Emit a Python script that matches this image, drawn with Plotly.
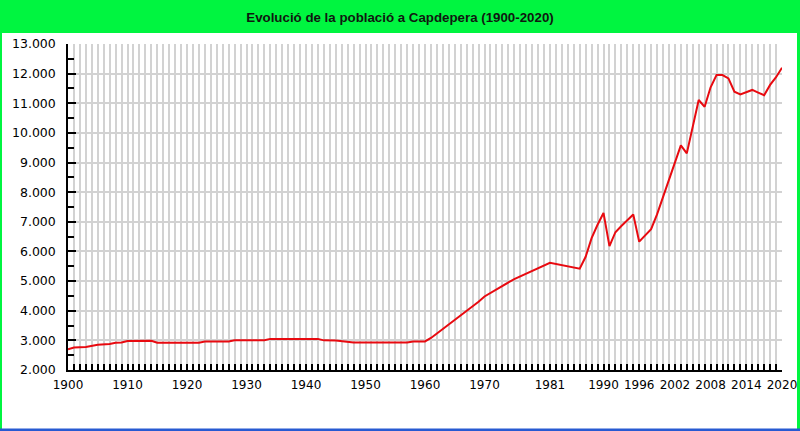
import plotly.graph_objects as go

years = [1900, 1901, 1903, 1904, 1905, 1907, 1908, 1909, 1910, 1914, 1915, 1922, 1923,
         1927, 1928, 1933, 1934, 1942, 1943, 1945, 1946, 1947, 1948, 1957, 1958, 1960,
         1961, 1962, 1963, 1964, 1965, 1966, 1967, 1968, 1969, 1970, 1975, 1981, 1986,
         1987, 1988, 1989, 1990, 1991, 1992, 1993, 1994, 1995, 1996, 1998, 1999, 2000,
         2001, 2002, 2003, 2004, 2005, 2006, 2007, 2008, 2009, 2010, 2011, 2012, 2013,
         2014, 2015, 2016, 2017, 2018, 2019, 2020]
population = [2700, 2760, 2780, 2810, 2850, 2880, 2920, 2930, 2980, 2985, 2920, 2920, 2960,
              2965, 3000, 3005, 3050, 3050, 3000, 2995, 2970, 2965, 2925, 2925, 2960, 2965,
              3080, 3230, 3380, 3530, 3690, 3850, 4000, 4150, 4300, 4480, 5070, 5620, 5420,
              5820, 6450, 6900, 7300, 6180, 6650, 6860, 7060, 7250, 6330, 6750, 7250, 7850,
              8450, 9050, 9580, 9310, 10200, 11110, 10880, 11540, 11950, 11950, 11840, 11390,
              11300, 11380, 11450, 11360, 11270, 11620, 11880, 12200]

x_ticks = [1900, 1910, 1920, 1930, 1940, 1950, 1960, 1970, 1981, 1990, 1996, 2002, 2008, 2014, 2020]
title_text = "Evolució de la població a Capdepera (1900-2020)"

W, H = 800, 431
ML, MR, MT, MB = 68, 18, 44, 61
pw, ph = W - ML - MR, H - MT - MB

def px_x(p):
    return (p - ML) / pw

def px_y(p):
    return (H - MB - p) / ph

fig = go.Figure()
fig.add_trace(go.Scatter(x=years, y=population, mode="lines",
                         line=dict(color="rgb(232,10,16)", width=2), hoverinfo="x+y"))

green = "rgb(0,245,64)"
shapes = [
    dict(type="rect", xref="paper", yref="paper", x0=px_x(0), x1=px_x(W), y0=px_y(33), y1=px_y(0),
         fillcolor=green, line=dict(width=0), layer="below"),
    dict(type="rect", xref="paper", yref="paper", x0=px_x(0), x1=px_x(2), y0=px_y(H), y1=px_y(0),
         fillcolor=green, line=dict(width=0)),
    dict(type="rect", xref="paper", yref="paper", x0=px_x(797), x1=px_x(W), y0=px_y(H), y1=px_y(0),
         fillcolor=green, line=dict(width=0)),
    dict(type="rect", xref="paper", yref="paper", x0=px_x(0), x1=px_x(W), y0=px_y(H), y1=px_y(428.5),
         fillcolor="rgb(40,90,210)", line=dict(width=0)),
]

fig.update_layout(
    width=W, height=H,
    margin=dict(l=ML, r=MR, t=MT, b=MB, pad=0, autoexpand=False),
    paper_bgcolor="white", plot_bgcolor="white",
    separators=",.",
    showlegend=False,
    title=dict(text="<b>" + title_text + "</b>", x=0.5, xref="container", xanchor="center",
               y=1 - 17 / H, yref="container", yanchor="middle",
               font=dict(family="Liberation Sans", size=13.3, color="rgb(16,24,16)")),
    font=dict(family="DejaVu Sans", size=12, color="black"),
    shapes=shapes,
)

grid = "rgb(210,210,210)"
fig.update_xaxes(
    range=[1900, 2020], tickmode="array", tickvals=x_ticks, ticktext=[str(t) for t in x_ticks],
    ticks="inside", ticklen=6, tickwidth=2, tickcolor="black",
    showline=True, linecolor="black", linewidth=2,
    showgrid=True, gridcolor=grid, gridwidth=2,
    minor=dict(tickmode="linear", tick0=1900, dtick=1, ticks="inside", ticklen=6, tickwidth=2,
               tickcolor="black", showgrid=True, gridcolor=grid, gridwidth=2),
    zeroline=False, fixedrange=True, ticklabelstandoff=3, automargin=False,
    tickfont=dict(family="DejaVu Sans", size=12, color="black"),
)
fig.update_yaxes(
    range=[2000, 13000], tickmode="linear", tick0=2000, dtick=1000, tickformat=",d",
    ticks="inside", ticklen=8, tickwidth=1.5, tickcolor="black",
    showline=True, linecolor="black", linewidth=1.5,
    showgrid=True, gridcolor=grid, gridwidth=2,
    minor=dict(tickmode="linear", tick0=2000, dtick=500, ticks="inside", ticklen=6, tickwidth=1.5,
               tickcolor="black", showgrid=False),
    zeroline=False, fixedrange=True, ticklabelstandoff=8, automargin=False,
    tickfont=dict(family="DejaVu Sans", size=12.5, color="black"),
)

fig.write_html("out.html", config={"displayModeBar": False},
               post_script="document.body.style.margin='0';document.body.style.overflow='hidden';")
